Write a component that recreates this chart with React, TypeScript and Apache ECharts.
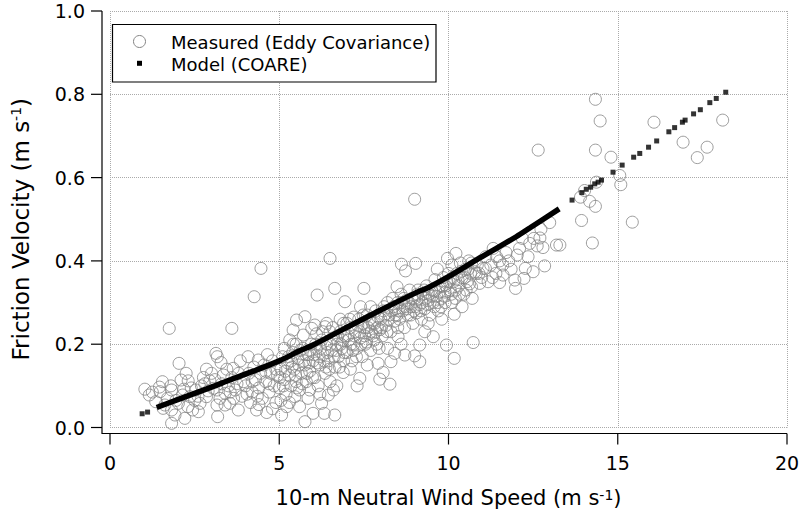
import React, { useEffect, useRef } from "react";
import * as echarts from "echarts";

// ---- axis ticks ----
const xTicks = [0, 5, 10, 15, 20];
const yTicks = [0, 0.2, 0.4, 0.6, 0.8, 1.0];

// ---- Measured (Eddy Covariance): [wind speed, friction velocity] ----
const measuredLow: number[][] = [
  [1.03, 0.092], [1.16, 0.078], [1.46, 0.097], [1.48, 0.086], [1.57, 0.046], [1.62, 0.054], [1.75, 0.238],
  [1.8, 0.1], [1.82, 0.09], [1.82, 0.042], [1.82, 0.01], [1.92, 0.03], [1.7, 0.07], [1.35, 0.062], [1.95, 0.065],
  [2.04, 0.154], [2.1, 0.114], [2.31, 0.112], [2.18, 0.092], [2.15, 0.078], [2.36, 0.074], [2.54, 0.09],
  [2.76, 0.12], [2.85, 0.14], [2.95, 0.112], [2.02, 0.058], [2.21, 0.022], [2.44, 0.042], [2.61, 0.038],
  [2.66, 0.058], [2.85, 0.074], [2.3, 0.05], [2.5, 0.065], [2.7, 0.1], [2.9, 0.088], [2.4, 0.095],
  [3.0, 0.13], [3.05, 0.094], [3.13, 0.178], [3.17, 0.17], [3.28, 0.156], [3.35, 0.126], [3.16, 0.09],
  [3.4, 0.082], [3.16, 0.054], [3.4, 0.054], [3.18, 0.026], [3.6, 0.238], [3.54, 0.058], [3.64, 0.142],
  [3.79, 0.042], [3.5, 0.1], [3.6, 0.12], [3.7, 0.09], [3.8, 0.13], [3.9, 0.075], [3.95, 0.11], [3.3, 0.105],
  [3.85, 0.16], [3.65, 0.07], [3.45, 0.14],
  [4.08, 0.17], [4.26, 0.314], [4.46, 0.382], [4.38, 0.162], [4.33, 0.042], [4.63, 0.036], [4.0, 0.1],
  [4.1, 0.13], [4.15, 0.06], [4.2, 0.085], [4.3, 0.115], [4.4, 0.095], [4.45, 0.13], [4.5, 0.07],
  [4.55, 0.15], [4.6, 0.11], [4.7, 0.085], [4.75, 0.13], [4.8, 0.16], [4.85, 0.1], [4.9, 0.06],
  [4.95, 0.125], [4.65, 0.175], [4.25, 0.145], [4.9, 0.14], [4.4, 0.055], [4.8, 0.045],
  [1.25, 0.085], [1.55, 0.11], [2.25, 0.13], [2.6, 0.075], [2.8, 0.105], [3.1, 0.115], [3.25, 0.07],
  [3.55, 0.085], [3.75, 0.105], [4.05, 0.08], [4.35, 0.075], [4.6, 0.135], [4.2, 0.11], [4.7, 0.105],
];

const measuredMid: number[][] = [
  [5.07, 0.03], [5.22, 0.05], [5.46, 0.074], [5.76, 0.014], [5.85, 0.07], [5.41, 0.234], [5.51, 0.258],
  [5.76, 0.266], [5.31, 0.21], [5.71, 0.222], [5.96, 0.238], [5.0, 0.095], [5.05, 0.14], [5.1, 0.17],
  [5.15, 0.115], [5.2, 0.08], [5.25, 0.155], [5.3, 0.125], [5.35, 0.1], [5.4, 0.18], [5.45, 0.14],
  [5.5, 0.11], [5.55, 0.165], [5.6, 0.09], [5.65, 0.13], [5.7, 0.19], [5.75, 0.15], [5.8, 0.11],
  [5.85, 0.175], [5.9, 0.135], [5.95, 0.2], [5.3, 0.06], [5.6, 0.05], [5.9, 0.09], [5.15, 0.19],
  [5.5, 0.2], [5.05, 0.065], [5.02, 0.12], [5.18, 0.135], [5.28, 0.17], [5.38, 0.145], [5.48, 0.125],
  [5.58, 0.15], [5.68, 0.105], [5.78, 0.175], [5.88, 0.155], [5.98, 0.12], [5.12, 0.1], [5.42, 0.2],
  [5.62, 0.185], [5.92, 0.185],
  [6.0, 0.034], [6.33, 0.034], [6.64, 0.03], [6.25, 0.058], [6.45, 0.078], [6.05, 0.246], [6.35, 0.242],
  [6.5, 0.23], [6.5, 0.406], [6.12, 0.318], [6.64, 0.334], [6.94, 0.302], [6.89, 0.132], [6.0, 0.16],
  [6.05, 0.12], [6.1, 0.19], [6.15, 0.1], [6.2, 0.15], [6.25, 0.21], [6.3, 0.175], [6.35, 0.13],
  [6.4, 0.2], [6.45, 0.16], [6.5, 0.11], [6.55, 0.185], [6.6, 0.215], [6.65, 0.145], [6.7, 0.2],
  [6.75, 0.17], [6.8, 0.23], [6.85, 0.19], [6.9, 0.16], [6.95, 0.22], [6.2, 0.08], [6.6, 0.09],
  [6.1, 0.225], [6.8, 0.26], [6.7, 0.1], [6.4, 0.25], [6.9, 0.25], [6.02, 0.175], [6.12, 0.155],
  [6.22, 0.19], [6.32, 0.16], [6.42, 0.18], [6.52, 0.2], [6.62, 0.17], [6.72, 0.22], [6.82, 0.2],
  [6.92, 0.18], [6.08, 0.2], [6.28, 0.23], [6.58, 0.24], [6.78, 0.145], [6.48, 0.14],
  [7.5, 0.334], [7.38, 0.118], [7.92, 0.154], [7.97, 0.116], [7.0, 0.18], [7.05, 0.21], [7.1, 0.24],
  [7.15, 0.16], [7.2, 0.2], [7.25, 0.23], [7.3, 0.19], [7.35, 0.26], [7.4, 0.215], [7.45, 0.17],
  [7.5, 0.24], [7.55, 0.2], [7.6, 0.27], [7.65, 0.225], [7.7, 0.185], [7.75, 0.25], [7.8, 0.21],
  [7.85, 0.28], [7.9, 0.24], [7.95, 0.19], [7.1, 0.14], [7.3, 0.1], [7.6, 0.15], [7.2, 0.265],
  [7.7, 0.29], [7.4, 0.29], [7.85, 0.23], [7.0, 0.25], [7.02, 0.22], [7.12, 0.2], [7.22, 0.22],
  [7.32, 0.245], [7.42, 0.2], [7.52, 0.22], [7.62, 0.24], [7.72, 0.23], [7.82, 0.25], [7.92, 0.265],
  [7.08, 0.26], [7.28, 0.17], [7.48, 0.27], [7.68, 0.26], [7.88, 0.2],
  [5.35, 0.16], [5.52, 0.095], [5.72, 0.16], [5.82, 0.13], [6.18, 0.17], [6.38, 0.145], [6.68, 0.185],
  [6.88, 0.21], [7.18, 0.185], [7.38, 0.23], [7.58, 0.205], [7.78, 0.22], [7.98, 0.235], [7.45, 0.25],
];

const measuredHigh: number[][] = [
  [8.07, 0.132], [8.27, 0.104], [8.3, 0.158], [8.41, 0.178], [8.51, 0.218], [8.71, 0.174], [8.61, 0.392],
  [8.73, 0.376], [8.48, 0.338], [8.0, 0.26], [8.05, 0.22], [8.1, 0.29], [8.15, 0.245], [8.2, 0.3],
  [8.25, 0.27], [8.3, 0.23], [8.35, 0.31], [8.4, 0.255], [8.45, 0.285], [8.5, 0.3], [8.55, 0.26],
  [8.6, 0.32], [8.65, 0.28], [8.7, 0.24], [8.75, 0.305], [8.8, 0.27], [8.85, 0.33], [8.9, 0.29],
  [8.95, 0.25], [8.2, 0.19], [8.6, 0.2], [8.02, 0.24], [8.12, 0.27], [8.22, 0.26], [8.32, 0.28],
  [8.42, 0.27], [8.52, 0.28], [8.62, 0.3], [8.72, 0.29], [8.82, 0.3], [8.92, 0.31], [8.08, 0.28],
  [8.38, 0.29], [8.68, 0.31], [8.88, 0.27], [8.5, 0.24],
  [9.0, 0.548], [9.03, 0.394], [9.67, 0.38], [9.97, 0.406], [9.15, 0.198], [9.94, 0.198], [9.3, 0.23],
  [9.55, 0.218], [9.0, 0.172], [9.15, 0.158], [9.0, 0.31], [9.05, 0.275], [9.1, 0.33], [9.15, 0.295],
  [9.2, 0.26], [9.25, 0.32], [9.3, 0.285], [9.35, 0.34], [9.4, 0.305], [9.45, 0.27], [9.5, 0.33],
  [9.55, 0.3], [9.6, 0.355], [9.65, 0.315], [9.7, 0.28], [9.75, 0.34], [9.8, 0.31], [9.85, 0.36],
  [9.9, 0.325], [9.95, 0.35], [9.4, 0.25], [9.8, 0.26], [9.02, 0.29], [9.12, 0.31], [9.22, 0.3],
  [9.32, 0.31], [9.42, 0.32], [9.52, 0.315], [9.62, 0.33], [9.72, 0.325], [9.82, 0.34], [9.92, 0.34],
  [9.08, 0.32], [9.28, 0.33], [9.58, 0.29], [9.78, 0.29], [9.9, 0.3],
  [10.22, 0.418], [10.17, 0.272], [10.17, 0.166], [10.73, 0.204], [10.68, 0.338], [10.78, 0.374],
  [10.92, 0.346], [10.0, 0.37], [10.05, 0.33], [10.1, 0.39], [10.15, 0.35], [10.2, 0.31], [10.25, 0.37],
  [10.3, 0.34], [10.35, 0.395], [10.4, 0.36], [10.45, 0.32], [10.5, 0.38], [10.55, 0.35], [10.6, 0.4],
  [10.65, 0.37], [10.7, 0.31], [10.85, 0.39], [10.9, 0.37], [10.4, 0.29], [10.1, 0.3], [10.02, 0.35],
  [10.12, 0.36], [10.28, 0.355], [10.38, 0.375], [10.48, 0.36], [10.58, 0.38], [10.68, 0.395],
  [10.82, 0.37], [10.22, 0.33], [10.52, 0.33],
  [11.09, 0.382], [11.02, 0.382], [11.17, 0.35], [11.51, 0.348], [11.32, 0.43], [11.42, 0.41],
  [11.51, 0.4], [11.61, 0.366], [11.78, 0.4], [11.96, 0.354], [11.98, 0.334], [11.1, 0.41],
  [11.25, 0.39], [11.4, 0.37], [11.7, 0.42], [11.85, 0.38],
  [12.03, 0.414], [12.18, 0.454], [12.23, 0.358], [12.27, 0.382], [12.4, 0.442], [12.5, 0.374],
  [12.52, 0.454], [12.62, 0.436], [12.65, 0.666], [12.73, 0.476], [12.79, 0.432], [12.84, 0.388],
  [12.99, 0.492], [12.1, 0.43], [12.35, 0.41], [12.7, 0.455],
  [13.19, 0.438], [13.29, 0.438], [13.9, 0.553], [13.93, 0.497], [14.02, 0.569], [14.17, 0.543],
  [14.25, 0.443], [14.34, 0.531], [14.34, 0.666], [14.34, 0.788], [14.37, 0.589], [14.48, 0.736],
  [14.8, 0.649], [15.06, 0.605], [15.09, 0.583], [15.43, 0.493], [16.07, 0.733], [16.93, 0.685],
  [17.35, 0.648], [17.64, 0.673], [18.1, 0.738],
  [8.18, 0.23], [8.48, 0.27], [8.78, 0.285], [8.98, 0.28], [9.18, 0.28], [9.38, 0.295], [9.68, 0.3],
  [9.88, 0.315], [10.08, 0.32], [10.32, 0.32], [10.62, 0.345], [10.98, 0.36], [11.3, 0.36], [11.6, 0.39],
];

// ---- Model (COARE): continuous run of points ----
const modelCurveX = [1.38, 2.0, 3.0, 3.54, 4.0, 5.0, 5.6, 6.0, 6.94, 7.97, 9.0, 9.45, 10.0, 10.92, 12.0, 12.4, 13.27];
const modelCurveY = [0.048, 0.067, 0.097, 0.114, 0.128, 0.16, 0.184, 0.198, 0.238, 0.281, 0.322, 0.338, 0.362, 0.407, 0.458, 0.479, 0.525];

// ---- Model (COARE): isolated points ----
const modelPoints: number[][] = [
  [0.95, 0.033], [1.11, 0.037],
  [13.65, 0.546], [13.94, 0.564], [14.07, 0.572], [14.2, 0.577], [14.32, 0.585], [14.42, 0.589],
  [14.52, 0.594], [14.86, 0.613], [15.13, 0.63], [15.47, 0.649], [15.65, 0.658], [15.91, 0.673],
  [16.15, 0.688], [16.51, 0.71], [16.68, 0.72], [16.91, 0.733], [16.99, 0.738], [17.24, 0.753],
  [17.44, 0.763], [17.72, 0.78], [17.91, 0.79], [18.19, 0.805],
];

const FONT = "DejaVu Sans";
const MEASURED = "Measured (Eddy Covariance)";
const MODEL = "Model (COARE)";
const CIRCLE_GRAY = "#858585";
const AXIS_GAP_X = 8; // left axis drawn detached from the plot area
const AXIS_GAP_Y = 6; // bottom axis drawn detached from the plot area
const TICK_LEN = 11;

export default function App() {
  const ref = useRef<HTMLDivElement>(null);
  useEffect(() => {
    const chart = echarts.init(ref.current!, null, { renderer: "svg" });
    const measured = [...measuredLow, ...measuredMid, ...measuredHigh];
    const curve = modelCurveX.map((x, i) => [x, modelCurveY[i]]);
    const axisNameRich = {
      sup: { fontSize: 14, verticalAlign: "top", lineHeight: 13, fontFamily: FONT, color: "#000" },
    };
    const option: any = {
      animation: false,
      backgroundColor: "#fff",
      textStyle: { fontFamily: FONT, color: "#000" },
      grid: { left: 110, right: 12, top: 11, bottom: 85.5, containLabel: false, outerBoundsMode: "none" },
      xAxis: {
        type: "value",
        min: xTicks[0],
        max: xTicks[xTicks.length - 1],
        interval: 5,
        axisLine: { show: false, onZero: false },
        axisTick: { show: false },
        axisLabel: { fontSize: 19, color: "#000", margin: 26, fontFamily: FONT },
        splitLine: { show: true, lineStyle: { color: "#aaa", type: "dotted", width: 1 } },
        name: "10-m Neutral Wind Speed (m s{sup|-1})",
        nameLocation: "middle",
        nameGap: 60,
        nameMoveOverlap: false,
        nameTextStyle: { fontSize: 21, color: "#000", fontFamily: FONT, rich: axisNameRich },
      },
      yAxis: {
        type: "value",
        min: yTicks[0],
        max: yTicks[yTicks.length - 1],
        interval: 0.2,
        axisLine: { show: false, onZero: false },
        axisTick: { show: false },
        axisLabel: {
          fontSize: 19, color: "#000", margin: 25, fontFamily: FONT,
          formatter: (v: number) => v.toFixed(1),
        },
        splitLine: { show: true, lineStyle: { color: "#aaa", type: "dotted", width: 1 } },
        name: "Friction Velocity (m s{sup|-1})",
        nameLocation: "middle",
        nameRotate: 90,
        nameGap: 78,
        nameMoveOverlap: false,
        nameTextStyle: {
          fontSize: 23, color: "#000", fontFamily: FONT, rich: axisNameRich,
          padding: [0, 20, 0, 0],
        },
      },
      series: [
        {
          name: MEASURED,
          type: "scatter",
          data: measured,
          symbol: "circle",
          symbolSize: 12,
          itemStyle: { color: "rgba(0,0,0,0)", borderColor: CIRCLE_GRAY, borderWidth: 1 },
          silent: true,
          z: 2,
        },
        {
          name: MODEL,
          type: "scatter",
          data: modelPoints,
          symbol: "rect",
          symbolSize: 5,
          itemStyle: { color: "#000" },
          silent: true,
          z: 3,
        },
        {
          name: MODEL + " curve",
          type: "line",
          data: curve,
          smooth: 0.3,
          showSymbol: false,
          symbol: "none",
          lineStyle: { color: "#000", width: 5.5 },
          itemStyle: { color: "#000" },
          silent: true,
          z: 3,
        },
      ],
    };
    chart.setOption(option);

    // Axis frame and ticks, placed through the chart's own scales.
    const toPx = (x: number, y: number) => chart.convertToPixel({ gridIndex: 0 }, [x, y]) as number[];
    const [gx0, gy0] = toPx(xTicks[0], yTicks[0]);
    const [gx1, gy1] = toPx(xTicks[xTicks.length - 1], yTicks[yTicks.length - 1]);
    const axisLeft = gx0 - AXIS_GAP_X;
    const axisBottom = gy0 + AXIS_GAP_Y;
    const axisStyle = { stroke: "#000", lineWidth: 1.2, fill: null };
    const axisElems: any[] = [
      {
        type: "polyline",
        shape: { points: [[axisLeft, gy1], [axisLeft, axisBottom], [gx1, axisBottom]] },
        style: axisStyle,
      },
    ];
    xTicks.forEach((t) => {
      const [x] = toPx(t, yTicks[0]);
      axisElems.push({
        type: "line",
        shape: { x1: x, y1: axisBottom, x2: x, y2: axisBottom + TICK_LEN },
        style: axisStyle,
      });
    });
    yTicks.forEach((t) => {
      const [, y] = toPx(xTicks[0], t);
      axisElems.push({
        type: "line",
        shape: { x1: axisLeft - TICK_LEN, y1: y, x2: axisLeft, y2: y },
        style: axisStyle,
      });
    });

    chart.setOption({
      graphic: [
        { type: "group", z: 10, silent: true, children: axisElems },
        {
          type: "group",
          z: 10,
          silent: true,
          children: [
            {
              type: "rect",
              shape: { x: 112.5, y: 24.5, width: 323.5, height: 57.5 },
              style: { fill: "#fff", stroke: "#000", lineWidth: 1.2 },
            },
            {
              type: "circle",
              shape: { cx: 139.5, cy: 41.5, r: 6 },
              style: { fill: "none", stroke: CIRCLE_GRAY, lineWidth: 1 },
            },
            {
              type: "rect",
              shape: { x: 137, y: 60.8, width: 5, height: 5 },
              style: { fill: "#000" },
            },
            {
              type: "text",
              x: 171,
              y: 42,
              style: { text: MEASURED, fontSize: 18, fontFamily: FONT, fill: "#000", verticalAlign: "middle" },
            },
            {
              type: "text",
              x: 171,
              y: 64,
              style: { text: MODEL, fontSize: 18, fontFamily: FONT, fill: "#000", verticalAlign: "middle" },
            },
          ],
        },
      ],
    });
    return () => chart.dispose();
  }, []);
  return (
    <div
      ref={ref}
      style={{ position: "absolute", left: 0, top: 0, width: 799, height: 513, background: "#fff" }}
    />
  );
}
